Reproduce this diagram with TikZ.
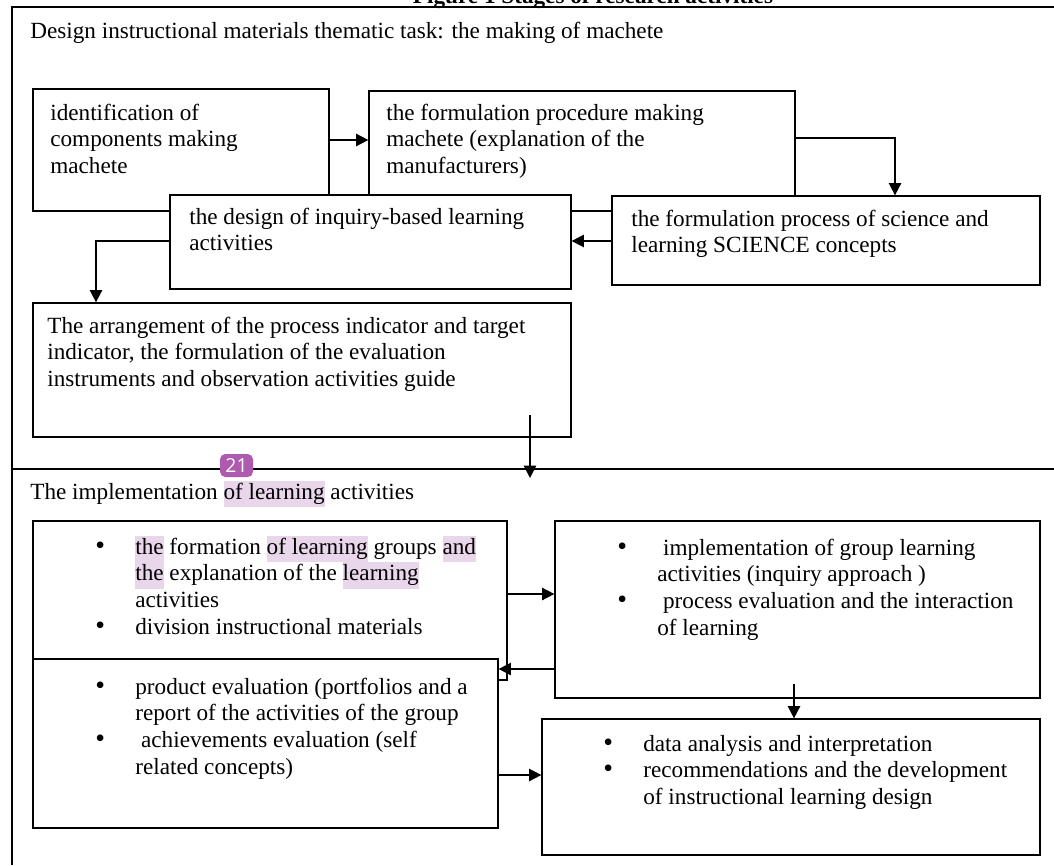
\documentclass[tikz,border=0pt]{standalone}
\usepackage{fontspec}
\setmainfont{Liberation Serif}
\newfontfamily\badgefont{Open Sans}
\usetikzlibrary{arrows.meta,fit}

\definecolor{hlpurple}{HTML}{E9D6EA}
\definecolor{badgepurple}{HTML}{AE5BAF}

\newcommand{\bul}{\makebox[0.8cm][l]{\scalebox{1.2}{\textbullet}}}
\newcommand{\ind}{\hspace*{0.8cm}}
\newcommand{\hl}[1]{{\setlength{\fboxsep}{0pt}\colorbox{hlpurple}{\rule[-4.5pt]{0pt}{15pt}#1}}}
\newcommand{\lines}[1]{\begin{tabular}[t]{@{}l@{}}#1\end{tabular}}

\tikzset{
  box/.style={draw, fill=white, line width=0.7pt, inner sep=0pt},
  txt/.style={anchor=base west, inner sep=0pt, font=\fontsize{13.2}{15.2}\selectfont},
  arr/.style={line width=0.9pt, -{Triangle[length=7pt,width=7pt]}},
  frame/.style={line width=0.7pt},
  badge/.style={fill=badgepurple, rounded corners=3pt, text=white, minimum width=0.66cm, minimum height=0.46cm, inner sep=0pt, font=\badgefont\fontsize{11}{11}\selectfont},
}

\begin{document}
\begin{tikzpicture}[x=0.02cm, y=-0.02cm]
\useasboundingbox (0,0) rectangle (1054,865);

\node[anchor=base, inner sep=0pt, font=\fontsize{13.2}{15}\selectfont\bfseries] (title) at (593,4) {Figure 1 Stages of research activities};
\draw[frame] (1054,7) -- (12,7) -- (12,865);
\draw[frame] (12,469) -- (1054,469);

\node[txt] (head1) at (30,39) {Design instructional materials thematic task: the making of machete};

\node[box, fit={(33,89) (329,211)}] (A) {};
\node[box, fit={(369,91) (795,211)}] (B) {};
\node[box, fit={(170,195) (571,289)}] (C) {};
\node[box, fit={(612,196) (1040,285)}] (D) {};
\node[box, fit={(33,303) (571,437)}] (E) {};

\node[txt] (At) at (50,120) {\lines{identification of\\components making\\machete}};
\node[txt] (Bt) at (386,120) {\lines{the formulation procedure making\\machete (explanation of the\\manufacturers)}};
\node[txt] (Ct) at (189,224) {\lines{the design of inquiry-based learning\\activities}};
\node[txt] (Dt) at (631,226) {\lines{the formulation process of science and\\learning SCIENCE concepts}};
\node[txt] (Et) at (47,333) {\lines{The arrangement of the process indicator and target\\indicator, the formulation of the evaluation\\instruments and observation activities guide}};

\coordinate (ab) at (0,140);
\coordinate (bd) at (895,138);
\coordinate (dc) at (0,241);
\coordinate (ce) at (96,241);
\coordinate (eout) at (530,415);
\coordinate (ein) at (530,478);
\draw[arr] (A.east |- ab) -- (B.west |- ab);
\draw[arr] (B.east |- bd) -| (D.north -| bd);
\draw[arr] (D.west |- dc) -- (C.east |- dc);
\draw[arr] (C.west |- ce) -| (E.north -| ce);
\draw[arr] (eout) -- (ein);

\node[txt] (head2) at (30,499) {The implementation \hl{of learning} activities};
\node[badge] (note) at (236.5,465.5) {21};

\node[box, fit={(33,521) (507,680)}] (F) {};
\node[box, fit={(33,659) (498,828)}] (G) {};
\node[box, fit={(555,521) (1040,698)}] (H) {};
\node[box, fit={(542,719) (1040,855)}] (I) {};

\node[txt] (Ft) at (95,554) {\lines{\bul\hl{the} formation \hl{of learning} groups \hl{and}\\
\ind\hl{the} explanation of the \hl{learning}\\
\ind activities\\
\bul division instructional materials}};
\node[txt] (Gt) at (95,694) {\lines{\bul product evaluation (portfolios and a\\
\ind report of the activities of the group\\
\bul\ achievements evaluation (self\\
\ind related concepts)}};
\node[txt] (Ht) at (617,555) {\lines{\bul\ implementation of group learning\\
\ind activities (inquiry approach )\\
\bul\ process evaluation and the interaction\\
\ind of learning}};
\node[txt] (It) at (603,751) {\lines{\bul data analysis and interpretation\\
\bul recommendations and the development\\
\ind of instructional learning design}};

\coordinate (fh) at (0,594);
\coordinate (hg) at (0,669);
\coordinate (hi) at (794,684);
\coordinate (gi) at (0,775);
\draw[arr] (F.east |- fh) -- (H.west |- fh);
\draw[arr] (H.west |- hg) -- (G.east |- hg);
\draw[arr] (hi) -- (I.north -| hi);
\draw[arr] (G.east |- gi) -- (I.west |- gi);
\end{tikzpicture}
\end{document}
